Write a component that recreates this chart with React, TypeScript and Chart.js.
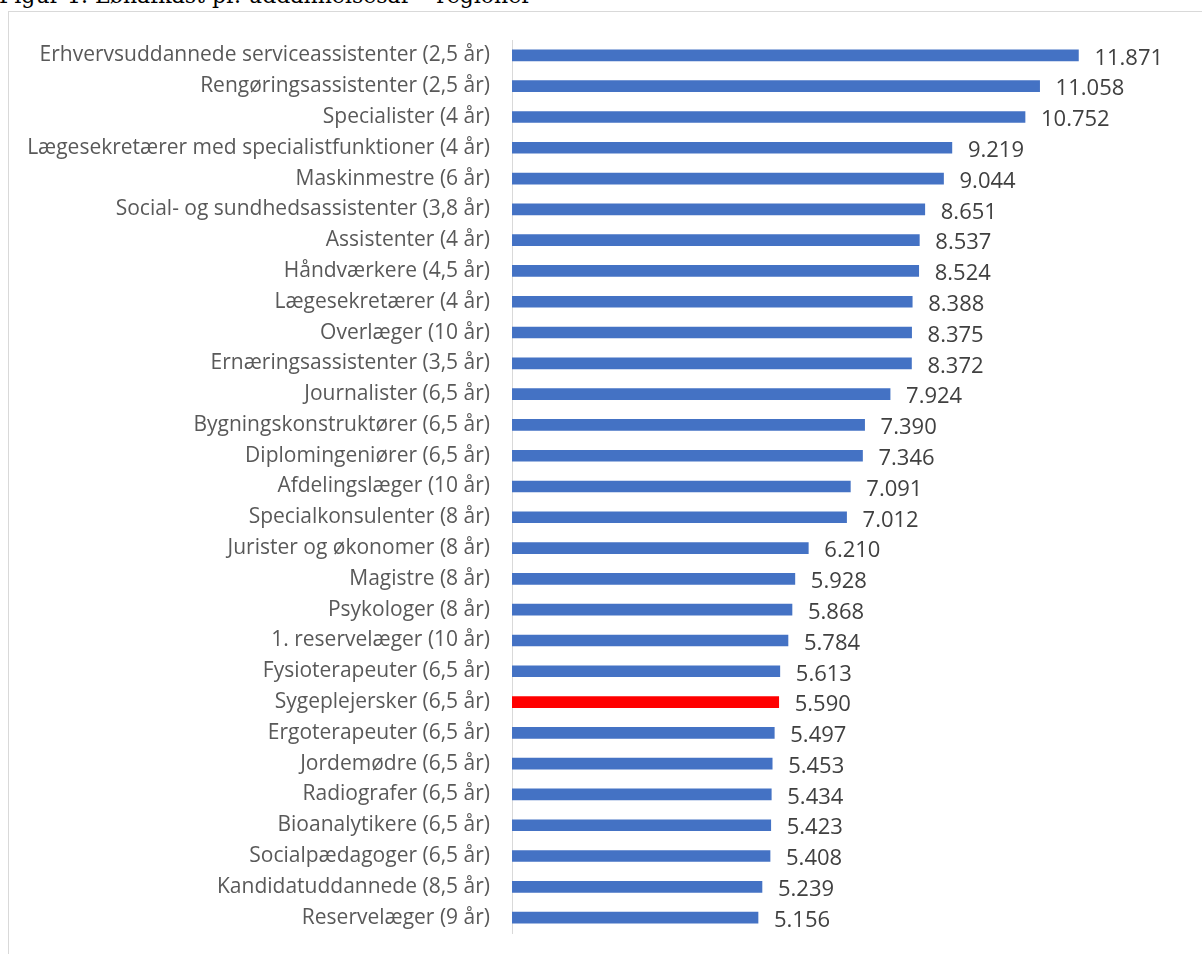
import React, { useEffect, useRef } from "react";
import { Chart, registerables } from "chart.js";

Chart.register(...registerables);

const categories = [
  "Erhvervsuddannede serviceassistenter (2,5 år)",
  "Rengøringsassistenter (2,5 år)",
  "Specialister (4 år)",
  "Lægesekretærer med specialistfunktioner (4 år)",
  "Maskinmestre (6 år)",
  "Social- og sundhedsassistenter (3,8 år)",
  "Assistenter (4 år)",
  "Håndværkere (4,5 år)",
  "Lægesekretærer (4 år)",
  "Overlæger (10 år)",
  "Ernæringsassistenter (3,5 år)",
  "Journalister (6,5 år)",
  "Bygningskonstruktører (6,5 år)",
  "Diplomingeniører (6,5 år)",
  "Afdelingslæger (10 år)",
  "Specialkonsulenter (8 år)",
  "Jurister og økonomer (8 år)",
  "Magistre (8 år)",
  "Psykologer (8 år)",
  "1. reservelæger (10 år)",
  "Fysioterapeuter (6,5 år)",
  "Sygeplejersker (6,5 år)",
  "Ergoterapeuter (6,5 år)",
  "Jordemødre (6,5 år)",
  "Radiografer (6,5 år)",
  "Bioanalytikere (6,5 år)",
  "Socialpædagoger (6,5 år)",
  "Kandidatuddannede (8,5 år)",
  "Reservelæger (9 år)",
];

const values = [
  11871, 11058, 10752, 9219, 9044, 8651, 8537, 8524, 8388, 8375, 8372, 7924,
  7390, 7346, 7091, 7012, 6210, 5928, 5868, 5784, 5613, 5590, 5497, 5453, 5434,
  5423, 5408, 5239, 5156,
];

const highlighted = ["Sygeplejersker (6,5 år)"];

const titleText = "Figur 1. Lønafkast pr. uddannelsesår – regioner";

const fmt = (v: number) =>
  String(Math.round(v)).replace(/\B(?=(\d{3})+(?!\d))/g, ".");

const valueLabels = {
  id: "valueLabels",
  afterDatasetsDraw(chart: any) {
    const ctx = chart.ctx;
    const meta = chart.getDatasetMeta(0);
    ctx.save();
    ctx.fillStyle = "#404040";
    ctx.font = "22px 'Open Sans'";
    ctx.textBaseline = "middle";
    ctx.textAlign = "left";
    meta.data.forEach((el: any, i: number) => {
      const v = chart.data.datasets[0].data[i] as number;
      ctx.fillText(fmt(v), el.x + 16, el.y + 3);
    });
    ctx.restore();
  },
};

export default function App() {
  const ref = useRef<HTMLCanvasElement>(null);
  useEffect(() => {
    if (!ref.current) return;
    const chart = new Chart(ref.current, {
      type: "bar",
      data: {
        labels: categories,
        datasets: [
          {
            data: values,
            backgroundColor: categories.map((c) =>
              highlighted.includes(c) ? "#FF0000" : "#4472C4"
            ),
            barThickness: 11,
          },
        ],
      },
      options: {
        indexAxis: "y",
        animation: false,
        responsive: false,
        maintainAspectRatio: false,
        layout: { padding: { top: 40, bottom: 21, left: 0, right: 22 } },
        plugins: {
          legend: { display: false },
          tooltip: { enabled: false },
          title: { display: false },
        },
        scales: {
          x: { display: false, min: 0, max: 14000 },
          y: {
            afterFit(scale: any) {
              scale.width = 512;
            },
            grid: {
              color: "rgba(0,0,0,0)",
              drawTicks: true,
              tickLength: 22,
              tickColor: "rgba(0,0,0,0)",
            },
            border: { display: true, color: "#d9d9d9", width: 1 },
            ticks: {
              color: "#595959",
              font: { family: "'Open Sans'", size: 21 },
              padding: 0,
            },
          },
        },
      },
      plugins: [valueLabels],
    });
    return () => chart.destroy();
  }, []);

  return (
    <div
      style={{
        position: "fixed",
        left: 0,
        top: 0,
        width: 1202,
        height: 954,
        overflow: "hidden",
        background: "#fff",
      }}
    >
      <div
        style={{
          position: "absolute",
          left: -1,
          top: -16,
          fontFamily: "'DejaVu Serif', serif",
          fontSize: 22,
          color: "#000",
          whiteSpace: "nowrap",
          lineHeight: "24px",
        }}
      >
        {titleText}
      </div>
      <div
        style={{
          position: "absolute",
          left: 8,
          top: 11,
          width: 1220,
          height: 980,
          border: "1px solid #d9d9d9",
          boxSizing: "border-box",
        }}
      />
      <canvas
        ref={ref}
        width={1202}
        height={954}
        style={{ position: "absolute", left: 0, top: 0, width: 1202, height: 954 }}
      />
    </div>
  );
}
